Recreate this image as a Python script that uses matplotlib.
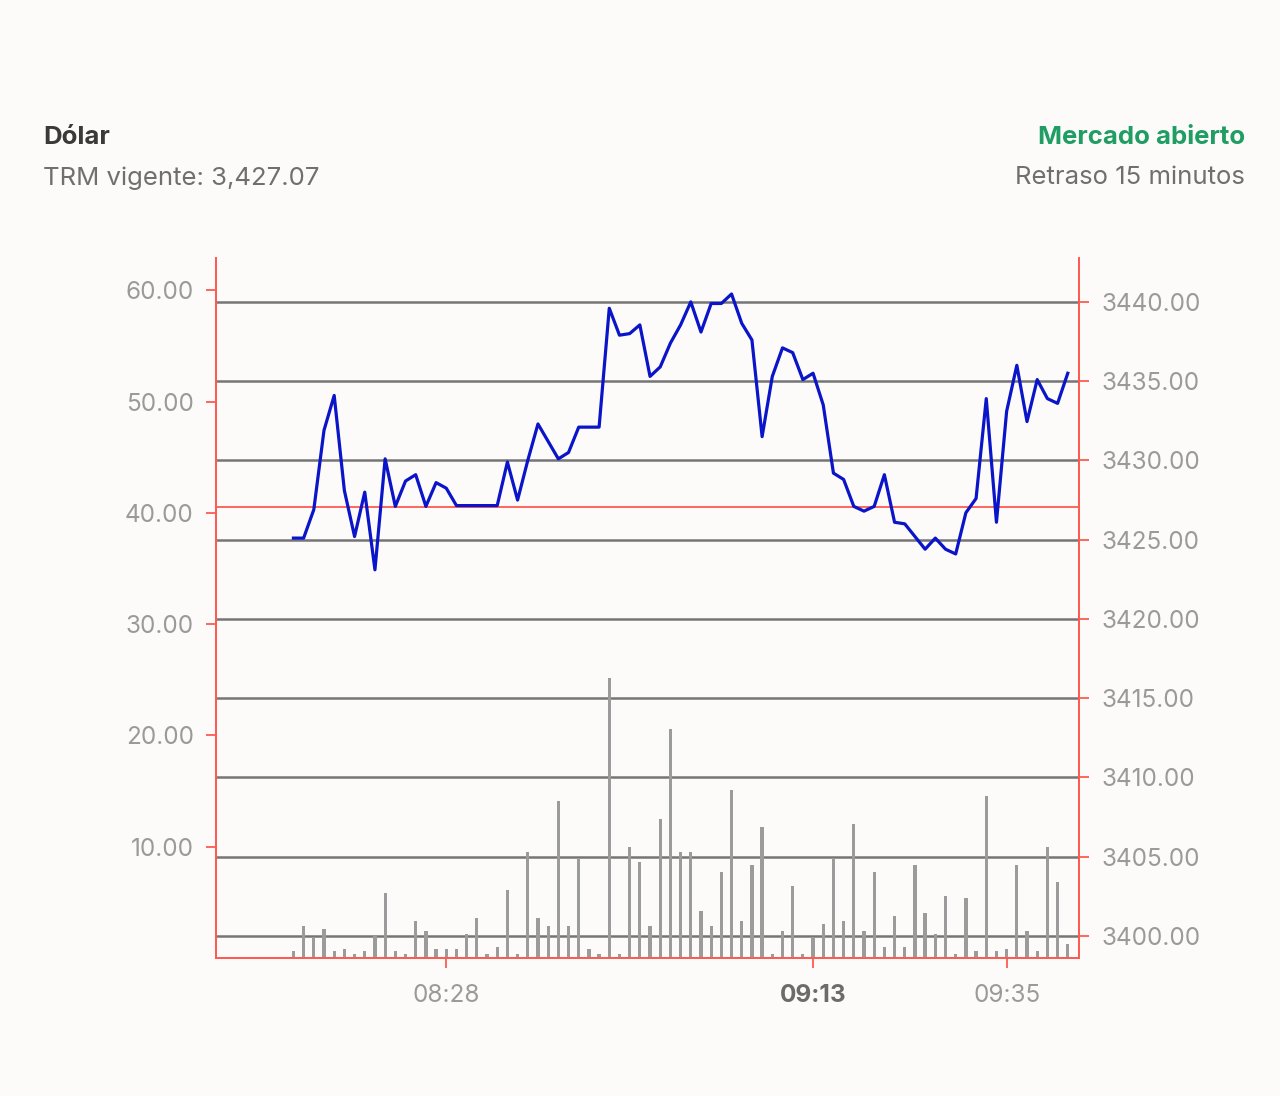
"""Dólar intraday chart: traded amount (bars, left axis) and price (line, right axis)."""
import numpy as np
import matplotlib
matplotlib.use("Agg")
import matplotlib.pyplot as plt

plt.rcParams["font.family"] = ["Inter", "DejaVu Sans"]

BG = "#fdfbfa"
RED = "#ff5a52"
GRID = "#757575"
TICKTXT = "#9a9a9a"

TRM = 3427.07

# volume per trade slot (left axis)
volume = [0.6, 2.9, 1.8, 2.6, 0.6, 0.8, 0.35, 0.6, 1.95, 5.8,
          0.6, 0.35, 3.3, 2.4, 0.8, 0.8, 0.8, 2.2, 3.6, 0.35,
          1.0, 6.1, 0.35, 9.5, 3.6, 2.9, 14.1, 2.9, 9.0, 0.8,
          0.35, 25.2, 0.35, 10.0, 8.6, 2.9, 12.5, 20.6, 9.5, 9.5,
          4.2, 2.9, 7.7, 15.1, 3.3, 8.4, 11.8, 0.35, 2.4, 6.5,
          0.35, 1.9, 3.1, 9.0, 3.3, 12.0, 2.4, 7.7, 1.0, 3.8,
          1.0, 8.4, 4.0, 2.2, 5.6, 0.35, 5.4, 0.6, 14.6, 0.6,
          0.8, 8.4, 2.4, 0.6, 10.0, 6.8, 1.26]

# price per slot (right axis)
price = [3425.1, 3425.1, 3426.9, 3431.9, 3434.1, 3428.1, 3425.2, 3428.0, 3423.1, 3430.1,
         3427.1, 3428.7, 3429.1, 3427.1, 3428.6, 3428.25, 3427.15, 3427.15, 3427.15, 3427.15,
         3427.15, 3429.9, 3427.5, 3430.0, 3432.3, 3431.2, 3430.1, 3430.5, 3432.1, 3432.1,
         3432.1, 3439.6, 3437.9, 3438.0, 3438.55, 3435.3, 3435.9, 3437.4, 3438.55, 3440.0,
         3438.1, 3439.9, 3439.9, 3440.5, 3438.65, 3437.6, 3431.5, 3435.3, 3437.1, 3436.8,
         3435.1, 3435.5, 3433.5, 3429.2, 3428.8, 3427.1, 3426.8, 3427.1, 3429.1, 3426.1,
         3426.0, 3425.2, 3424.4, 3425.1, 3424.4, 3424.1, 3426.7, 3427.6, 3433.9, 3426.1,
         3433.1, 3436.0, 3432.45, 3435.1, 3433.9, 3433.6, 3435.5]

xtick_pos = [15, 51, 70]
xtick_lab = ["08:28", "09:13", "09:35"]
left_ticks = [10, 20, 30, 40, 50, 60]
right_ticks = [3400, 3405, 3410, 3415, 3420, 3425, 3430, 3435, 3440]

x = np.arange(len(price))

fig = plt.figure(figsize=(12.8, 10.96), dpi=100, facecolor=BG)
ax = fig.add_axes([0.16875, 0.1259, 0.6742, 0.6387])
ax2 = ax.twinx()

# price axis: grid, TRM reference line, price line
ax2.set_ylim(3398.61, 3442.77)
ax2.set_yticks(right_ticks)
ax2.set_yticklabels([f"{v:.2f}" for v in right_ticks])
for v in right_ticks:
    ax2.axhline(v, color=GRID, lw=1.8, zorder=1)
ax2.axhline(TRM, color=RED, lw=1.3, zorder=2)
ax2.plot(x, price, color="#0a14c8", lw=2.3, zorder=3, solid_joinstyle="round")

# volume axis: bars drawn over the grid
ax.bar(x, volume, width=0.32, color="#9b9b9b", zorder=2)
ax.set_ylim(0, 62.9)
ax.set_yticks(left_ticks)
ax.set_yticklabels([f"{v:.2f}" for v in left_ticks])
ax.set_xlim(-7.6, 77.1)
ax.set_xticks(xtick_pos)
ax.set_xticklabels(xtick_lab)
ax.set_zorder(ax2.get_zorder() + 1)
ax.patch.set_visible(False)
ax2.patch.set_visible(False)

for a in (ax, ax2):
    a.spines["top"].set_visible(False)
    for s in ("left", "right", "bottom"):
        a.spines[s].set_color(RED)
        a.spines[s].set_linewidth(1.3)
    a.tick_params(colors=RED, labelcolor=TICKTXT, length=7, width=1.3, labelsize=17.5)
ax.tick_params(axis="y", pad=9)
ax2.tick_params(axis="y", pad=9)
ax.tick_params(axis="x", pad=12)
for t in ax.get_xticklabels():
    if t.get_text() == "09:13":
        t.set_fontweight("bold")
        t.set_color("#6b6b6b")

# header
fig.text(43 / 1280, 1 - 137 / 1096, "Dólar", fontsize=18.5, fontweight="bold",
         color="#3a3a3a", ha="left", va="center")
fig.text(43 / 1280, 1 - 178 / 1096, "TRM vigente: 3,427.07", fontsize=18.5,
         color="#6f6f6f", ha="left", va="center")
fig.text(1245 / 1280, 1 - 137 / 1096, "Mercado abierto", fontsize=18.5, fontweight="bold",
         color="#1f9d63", ha="right", va="center")
fig.text(1245 / 1280, 1 - 178 / 1096, "Retraso 15 minutos", fontsize=18.5,
         color="#6f6f6f", ha="right", va="center")

fig.savefig("out.png", dpi=100, facecolor=BG)
